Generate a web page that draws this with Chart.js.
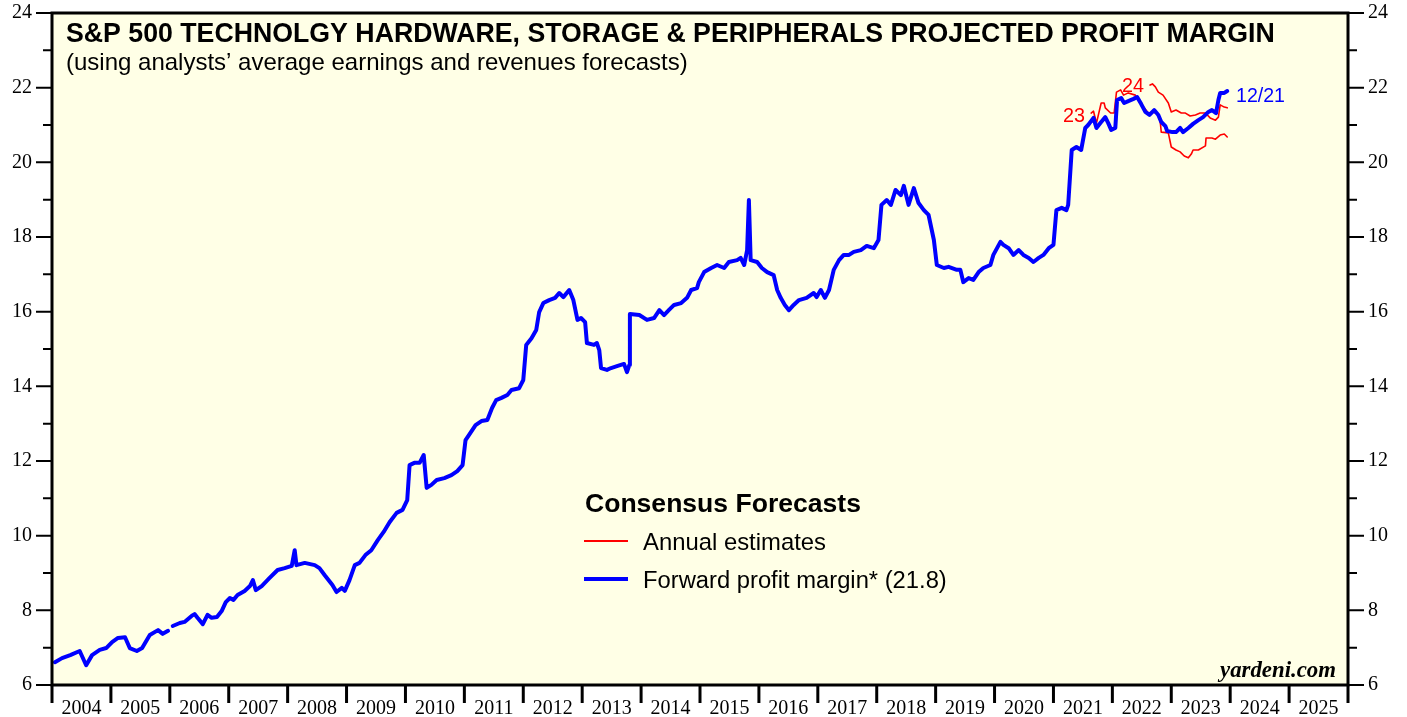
<!DOCTYPE html>
<html>
<head>
<meta charset="utf-8">
<script src="https://cdn.jsdelivr.net/npm/chart.js@4/dist/chart.umd.min.js"></script>
<style>
  body { margin: 0; background: #fff; }
  canvas { display: block; }
</style>
</head>
<body>
<canvas id="myChart" width="1407" height="717"></canvas>
<script>
// year labels on the bottom axis
const yearLabels = [2004, 2005, 2006, 2007, 2008, 2009, 2010, 2011, 2012, 2013, 2014,
  2015, 2016, 2017, 2018, 2019, 2020, 2021, 2022, 2023, 2024, 2025];
const yTicks = [6, 8, 10, 12, 14, 16, 18, 20, 22, 24];

// forward profit margin (blue), decimal years / percent; null = gap
const fwdDates = [2004.05, 2004.17, 2004.31, 2004.47, 2004.58, 2004.68, 2004.81, 2004.92, 2005.02, 2005.12,
  2005.24, 2005.32, 2005.44, 2005.53, 2005.66, 2005.80, 2005.88, 2005.97, 2006.01, 2006.05,
  2006.17, 2006.25, 2006.31, 2006.37, 2006.42, 2006.47, 2006.56, 2006.64, 2006.71, 2006.80,
  2006.88, 2006.95, 2007.02, 2007.08, 2007.15, 2007.27, 2007.36, 2007.41, 2007.46, 2007.56,
  2007.69, 2007.83, 2007.95, 2008.07, 2008.12, 2008.15, 2008.29, 2008.46, 2008.54, 2008.63,
  2008.76, 2008.83, 2008.92, 2008.97, 2009.05, 2009.14, 2009.22, 2009.32, 2009.42, 2009.53,
  2009.63, 2009.73, 2009.85, 2009.95, 2010.03, 2010.07, 2010.15, 2010.24, 2010.31, 2010.36,
  2010.44, 2010.53, 2010.66, 2010.78, 2010.88, 2010.97, 2011.02, 2011.08, 2011.19, 2011.29,
  2011.39, 2011.47, 2011.54, 2011.63, 2011.73, 2011.80, 2011.93, 2012.00, 2012.05, 2012.14,
  2012.22, 2012.27, 2012.34, 2012.44, 2012.54, 2012.61, 2012.68, 2012.78, 2012.85, 2012.92,
  2012.98, 2013.05, 2013.08, 2013.20, 2013.25, 2013.29, 2013.32, 2013.42, 2013.49, 2013.59,
  2013.71, 2013.76, 2013.80, 2013.81, 2013.97, 2014.10, 2014.22, 2014.31, 2014.39, 2014.47,
  2014.56, 2014.68, 2014.78, 2014.85, 2014.95, 2014.98, 2015.07, 2015.19, 2015.29, 2015.41,
  2015.49, 2015.63, 2015.69, 2015.75, 2015.80, 2015.83, 2015.86, 2015.97, 2016.05, 2016.14,
  2016.25, 2016.31, 2016.37, 2016.44, 2016.51, 2016.59, 2016.68, 2016.81, 2016.93, 2016.98,
  2017.05, 2017.12, 2017.19, 2017.27, 2017.36, 2017.44, 2017.53, 2017.61, 2017.73, 2017.83,
  2017.95, 2018.03, 2018.08, 2018.17, 2018.24, 2018.32, 2018.41, 2018.46, 2018.54, 2018.63,
  2018.71, 2018.80, 2018.88, 2018.97, 2019.02, 2019.14, 2019.22, 2019.36, 2019.42, 2019.47,
  2019.56, 2019.64, 2019.73, 2019.81, 2019.93, 2019.98, 2020.10, 2020.15, 2020.24, 2020.32,
  2020.41, 2020.49, 2020.58, 2020.66, 2020.75, 2020.83, 2020.92, 2021.00, 2021.05, 2021.14,
  2021.22, 2021.25, 2021.31, 2021.39, 2021.47, 2021.54, 2021.59, 2021.68, 2021.73, 2021.81,
  2021.88, 2021.93, 2021.98, 2022.05, 2022.08, 2022.15, 2022.20, 2022.27, 2022.36, 2022.42,
  2022.49, 2022.56, 2022.63, 2022.71, 2022.78, 2022.83, 2022.90, 2022.93, 2023.02, 2023.08,
  2023.15, 2023.20, 2023.29, 2023.37, 2023.46, 2023.54, 2023.63, 2023.69, 2023.76, 2023.80,
  2023.83, 2023.90, 2023.95];
const fwdValues = [6.61, 6.72, 6.80, 6.91, 6.53, 6.80, 6.94, 6.99, 7.15, 7.26,
  7.28, 6.99, 6.91, 6.99, 7.34, 7.47, 7.37, 7.45, null, 7.58,
  7.66, 7.69, 7.77, 7.85, 7.90, 7.80, 7.63, 7.88, 7.80, 7.82,
  7.98, 8.22, 8.33, 8.28, 8.41, 8.52, 8.65, 8.81, 8.54, 8.65,
  8.86, 9.08, 9.13, 9.19, 9.61, 9.21, 9.27, 9.21, 9.13, 8.94,
  8.68, 8.49, 8.60, 8.52, 8.81, 9.21, 9.27, 9.48, 9.61, 9.88,
  10.10, 10.36, 10.61, 10.69, 10.95, 11.89, 11.95, 11.95, 12.16, 11.28,
  11.36, 11.49, 11.54, 11.62, 11.73, 11.89, 12.56, 12.70, 12.96, 13.07,
  13.10, 13.42, 13.63, 13.69, 13.77, 13.90, 13.95, 14.17, 15.11, 15.29,
  15.51, 15.99, 16.23, 16.31, 16.37, 16.50, 16.39, 16.58, 16.31, 15.78,
  15.83, 15.72, 15.16, 15.11, 15.16, 14.97, 14.49, 14.44, 14.49, 14.54,
  14.60, 14.38, 14.57, 15.94, 15.91, 15.78, 15.83, 16.04, 15.91, 16.04,
  16.18, 16.23, 16.37, 16.58, 16.63, 16.79, 17.06, 17.17, 17.25, 17.17,
  17.33, 17.38, 17.44, 17.25, 17.65, 18.99, 17.38, 17.33, 17.17, 17.06,
  16.98, 16.58, 16.37, 16.18, 16.04, 16.18, 16.31, 16.37, 16.50, 16.39,
  16.58, 16.37, 16.58, 17.12, 17.38, 17.52, 17.52, 17.60, 17.65, 17.76,
  17.70, 17.92, 18.86, 18.99, 18.86, 19.26, 19.12, 19.37, 18.86, 19.31,
  18.91, 18.72, 18.59, 17.92, 17.25, 17.17, 17.20, 17.12, 17.12, 16.79,
  16.90, 16.85, 17.06, 17.17, 17.25, 17.52, 17.87, 17.79, 17.70, 17.52,
  17.65, 17.52, 17.44, 17.33, 17.44, 17.52, 17.70, 17.79, 18.72, 18.78,
  18.72, 18.86, 20.33, 20.41, 20.33, 20.92, 21.00, 21.19, 20.92, 21.08,
  21.21, 21.05, 20.87, 20.92, 21.67, 21.72, 21.59, 21.64, 21.70, 21.75,
  21.56, 21.35, 21.27, 21.40, 21.27, 21.08, 20.97, 20.84, 20.81, 20.81,
  20.92, 20.81, 20.92, 21.03, 21.13, 21.21, 21.35, 21.40, 21.32, 21.67,
  21.86, 21.86, 21.91];

// annual estimates (red)
const est23Dates = [2021.64, 2021.68, 2021.73, 2021.81, 2021.86, 2021.88, 2021.97, 2022.03, 2022.07, 2022.14,
  2022.19, 2022.27, 2022.39, 2022.47, 2022.54, 2022.61, 2022.69, 2022.78, 2022.81, 2022.83,
  2022.95, 2023.00, 2023.08, 2023.15, 2023.22, 2023.29, 2023.34, 2023.37, 2023.46, 2023.58,
  2023.59, 2023.69, 2023.75, 2023.83, 2023.90, 2023.95];
const est23Values = [21.32, 21.37, 21.05, 21.59, 21.59, 21.46, 21.32, 21.32, 21.88, 21.94,
  21.80, 21.86, 21.80, 21.59, 21.46, 21.32, 21.35, 21.29, 21.13, 20.81,
  20.79, 20.41, 20.33, 20.28, 20.17, 20.12, 20.22, 20.33, 20.33, 20.44,
  20.65, 20.65, 20.62, 20.73, 20.76, 20.68];
const est24Dates = [2022.64, 2022.68, 2022.73, 2022.78, 2022.86, 2022.95, 2023.00, 2023.08, 2023.17, 2023.24,
  2023.32, 2023.41, 2023.49, 2023.58, 2023.66, 2023.75, 2023.80, 2023.83, 2023.90, 2023.95];
const est24Values = [22.07, 22.10, 22.02, 21.88, 21.80, 21.59, 21.35, 21.40, 21.32, 21.32,
  21.24, 21.27, 21.32, 21.32, 21.19, 21.13, 21.21, 21.54, 21.48, 21.46];

function toPoints(xs, ys) {
  return xs.map((x, i) => ({ x: x, y: ys[i] }));
}

const SANS = '"Liberation Sans", Arial, sans-serif';
const SERIF = '"Liberation Serif", "Times New Roman", serif';

function fitFont(ctx, text, style, family, width) {
  ctx.font = style + ' 20px ' + family;
  const w = ctx.measureText(text).width;
  return style + ' ' + (20 * width / w).toFixed(2) + 'px ' + family;
}

const decor = {
  id: 'decor',
  beforeDraw(chart) {
    const { ctx, chartArea: a } = chart;
    ctx.save();
    ctx.fillStyle = '#ffffff';
    ctx.fillRect(0, 0, chart.width, chart.height);
    ctx.fillStyle = '#ffffe6';
    ctx.fillRect(a.left, a.top, a.right - a.left, a.bottom - a.top);
    ctx.restore();
  },
  afterDraw(chart) {
    const { ctx, chartArea: a, scales } = chart;
    const xs = scales.x, ys = scales.y;
    ctx.save();

    // frame
    ctx.strokeStyle = '#000';
    ctx.lineWidth = 3;
    ctx.strokeRect(a.left, a.top, a.right - a.left, a.bottom - a.top);

    // y ticks both sides
    ctx.lineWidth = 2;
    for (let v = 6; v <= 24; v++) {
      const y = ys.getPixelForValue(v);
      const len = v % 2 === 0 ? 16 : 9;
      ctx.beginPath();
      ctx.moveTo(a.left, y); ctx.lineTo(a.left - len, y);
      ctx.moveTo(a.right, y); ctx.lineTo(a.right + len, y);
      ctx.stroke();
    }
    ctx.fillStyle = '#000';
    ctx.font = '20px ' + SERIF;
    ctx.textBaseline = 'middle';
    yTicks.forEach(v => {
      const y = ys.getPixelForValue(v);
      ctx.textAlign = 'right';
      ctx.fillText(String(v), a.left - 20, y);
      ctx.textAlign = 'left';
      ctx.fillText(String(v), a.right + 20, y);
    });

    // x ticks at year boundaries, labels in the middle
    ctx.lineWidth = 3;
    for (let yr = 2004; yr <= 2026; yr++) {
      const x = xs.getPixelForValue(yr);
      ctx.beginPath();
      ctx.moveTo(x, a.bottom); ctx.lineTo(x, a.bottom + 18);
      ctx.stroke();
    }
    ctx.textAlign = 'center';
    ctx.textBaseline = 'alphabetic';
    yearLabels.forEach(yr => {
      ctx.fillText(String(yr), xs.getPixelForValue(yr + 0.5), 714);
    });

    // titles
    ctx.textAlign = 'left';
    const title = 'S&P 500 TECHNOLGY HARDWARE, STORAGE & PERIPHERALS PROJECTED PROFIT MARGIN';
    ctx.font = fitFont(ctx, title, 'bold', SANS, 1209);
    ctx.fillText(title, 66, 42);
    const sub = '(using analysts\u2019 average earnings and revenues forecasts)';
    ctx.font = fitFont(ctx, sub, 'normal', SANS, 622);
    ctx.fillText(sub, 66, 70);

    // legend
    const leg = 'Consensus Forecasts';
    ctx.font = fitFont(ctx, leg, 'bold', SANS, 276);
    ctx.fillText(leg, 585, 512);
    ctx.lineWidth = 2;
    ctx.strokeStyle = '#ff0000';
    ctx.beginPath(); ctx.moveTo(584, 541); ctx.lineTo(628, 541); ctx.stroke();
    ctx.lineWidth = 4;
    ctx.strokeStyle = '#0000ff';
    ctx.beginPath(); ctx.moveTo(584, 579); ctx.lineTo(628, 579); ctx.stroke();
    ctx.fillStyle = '#000';
    const l1 = 'Annual estimates';
    ctx.font = fitFont(ctx, l1, 'normal', SANS, 183);
    ctx.fillText(l1, 643, 550);
    const l2 = 'Forward profit margin* (21.8)';
    ctx.font = fitFont(ctx, l2, 'normal', SANS, 304);
    ctx.fillText(l2, 643, 588);

    // line labels
    ctx.fillStyle = '#0000ff';
    ctx.font = fitFont(ctx, '12/21', 'normal', SANS, 49);
    ctx.fillText('12/21', 1236, 102);
    ctx.fillStyle = '#ff0000';
    ctx.font = fitFont(ctx, '23', 'normal', SANS, 22);
    ctx.fillText('23', 1063, 122);
    ctx.fillText('24', 1122, 92);

    // source
    ctx.fillStyle = '#000';
    ctx.textAlign = 'right';
    ctx.font = fitFont(ctx, 'yardeni.com', 'italic bold', SERIF, 116);
    ctx.fillText('yardeni.com', 1336, 677);
    ctx.restore();
  }
};

const ctx = document.getElementById('myChart');
const myChart = new Chart(ctx, {
  type: 'line',
  data: {
    datasets: [
      { label: 'Forward profit margin', data: toPoints(fwdDates, fwdValues),
        borderColor: '#0000ff', borderWidth: 4, spanGaps: false, order: 0 },
      { label: '23', data: toPoints(est23Dates, est23Values),
        borderColor: '#ff0000', borderWidth: 1.6, order: 1 },
      { label: '24', data: toPoints(est24Dates, est24Values),
        borderColor: '#ff0000', borderWidth: 1.6, order: 2 }
    ]
  },
  options: {
    responsive: false,
    animation: false,
    layout: { padding: { left: 52, top: 13, right: 59, bottom: 32 } },
    elements: { point: { radius: 0 }, line: { tension: 0, borderJoinStyle: 'round', borderCapStyle: 'round' } },
    plugins: { legend: { display: false }, tooltip: { enabled: false } },
    scales: {
      x: { type: 'linear', min: 2004, max: 2026, display: false },
      y: { type: 'linear', min: 6, max: 24, display: false }
    }
  },
  plugins: [decor]
});
</script>
</body>
</html>
